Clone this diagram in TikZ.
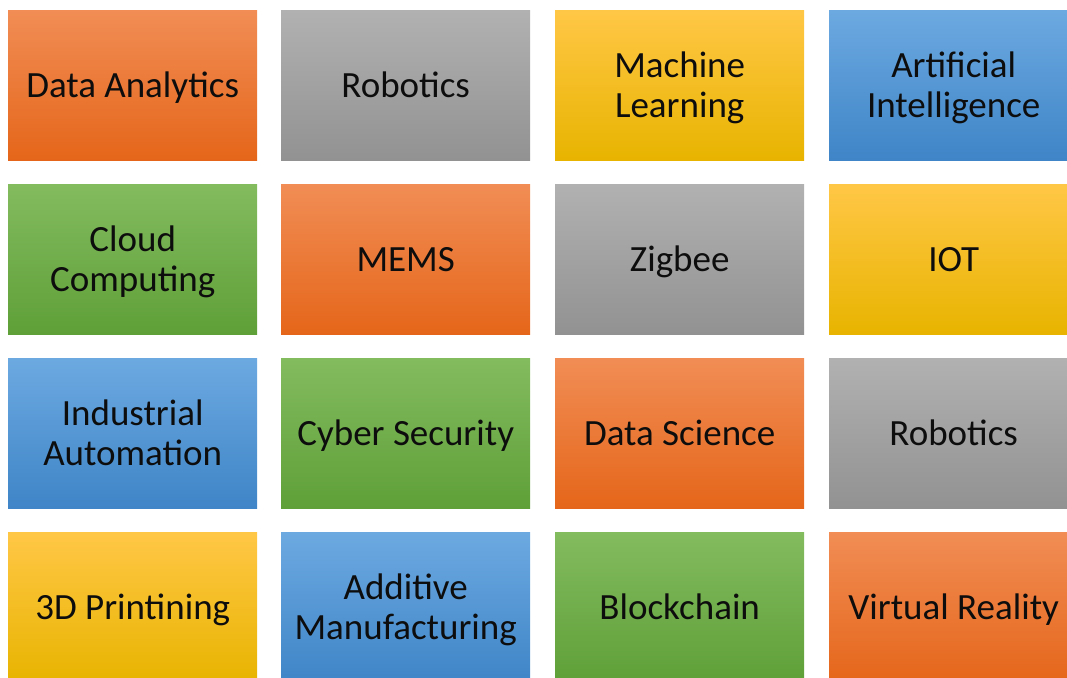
\documentclass[tikz,border=0pt]{standalone}
\usepackage{fontspec}
\setmainfont{Carlito}
% uniform line box so every tile is centred on the same line metrics
\newcommand\tstrut{\rule[-7.5pt]{0pt}{40pt}}
\begin{document}
\begin{tikzpicture}[x=1pt,y=-1pt,
  tile/.style={anchor=north west, minimum width=249pt, minimum height=150pt,
    inner sep=0pt, align=center, text=black!95,
    font=\fontsize{37}{40.5}\selectfont},
  orangetile/.style={tile, top color=orTop, middle color=orMid, bottom color=orBot},
  graytile/.style={tile, top color=grTop, middle color=grMid, bottom color=grBot},
  yellowtile/.style={tile, top color=yeTop, middle color=yeMid, bottom color=yeBot},
  bluetile/.style={tile, top color=blTop, middle color=blMid, bottom color=blBot},
  greentile/.style={tile, top color=gnTop, middle color=gnMid, bottom color=gnBot}]
\definecolor{orTop}{HTML}{F18D55}\definecolor{orMid}{HTML}{F37A24}\definecolor{orBot}{HTML}{E5661A}
\definecolor{grTop}{HTML}{B1B1B1}\definecolor{grMid}{HTML}{A5A5A5}\definecolor{grBot}{HTML}{929292}
\definecolor{yeTop}{HTML}{FFC746}\definecolor{yeMid}{HTML}{FFC000}\definecolor{yeBot}{HTML}{E8B400}
\definecolor{blTop}{HTML}{6CA9E1}\definecolor{blMid}{HTML}{5B9BD5}\definecolor{blBot}{HTML}{3F85C7}
\definecolor{gnTop}{HTML}{83BB5F}\definecolor{gnMid}{HTML}{70AD47}\definecolor{gnBot}{HTML}{5FA038}
\useasboundingbox (0,0) rectangle (1067,677);
\clip (0,0) rectangle (1067,677);
% row 1
\node[orangetile] (r1c1) at (8,10)   {\tstrut Data Analytics};
\node[graytile]   (r1c2) at (281,10) {\tstrut Robotics};
\node[yellowtile] (r1c3) at (555,10) {\tstrut Machine\\\tstrut Learning};
\node[bluetile]   (r1c4) at (829,10) {\tstrut Artificial\\\tstrut Intelligence};
% row 2
\node[greentile]  (r2c1) at (8,184)   {\tstrut Cloud\\\tstrut Computing};
\node[orangetile] (r2c2) at (281,184) {\tstrut MEMS};
\node[graytile]   (r2c3) at (555,184) {\tstrut Zigbee};
\node[yellowtile] (r2c4) at (829,184) {\tstrut IOT};
% row 3
\node[bluetile]   (r3c1) at (8,358)   {\tstrut Industrial\\\tstrut Automation};
\node[greentile]  (r3c2) at (281,358) {\tstrut Cyber Security};
\node[orangetile] (r3c3) at (555,358) {\tstrut Data Science};
\node[graytile]   (r3c4) at (829,358) {\tstrut Robotics};
% row 4
\node[yellowtile] (r4c1) at (8,532)   {\tstrut 3D Printining};
\node[bluetile]   (r4c2) at (281,532) {\tstrut Additive\\\tstrut Manufacturing};
\node[greentile]  (r4c3) at (555,532) {\tstrut Blockchain};
\node[orangetile] (r4c4) at (829,532) {\tstrut Virtual Reality};
\end{tikzpicture}
\end{document}
